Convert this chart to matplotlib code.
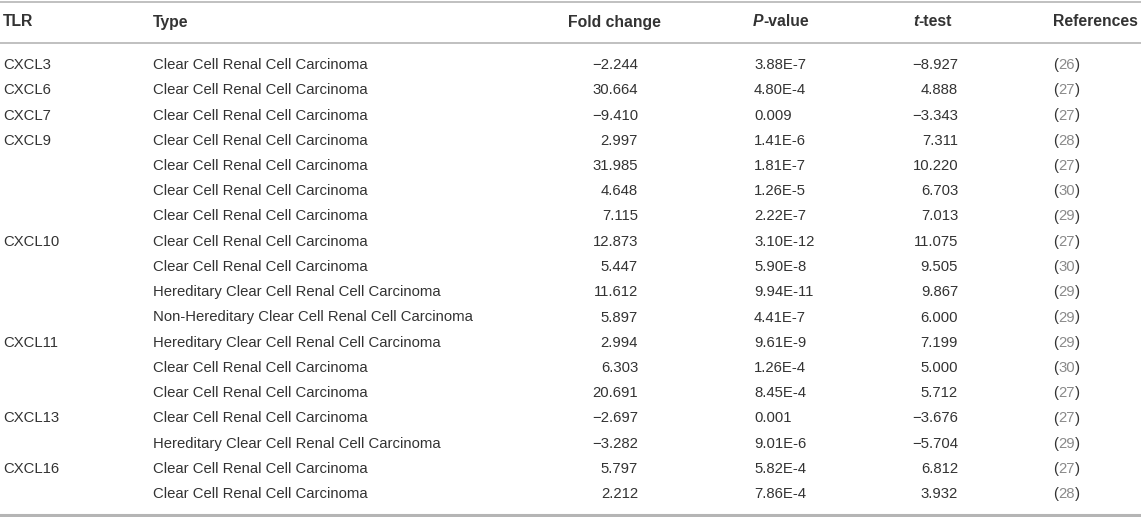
import matplotlib.pyplot as plt

plt.rcParams["font.family"] = ["Liberation Sans", "DejaVu Sans"]

columns = ["TLR", "Type", "Fold change", "P-value", "t-test", "References"]

tlr = ["CXCL3", "CXCL6", "CXCL7", "CXCL9", "", "", "", "CXCL10", "", "", "",
       "CXCL11", "", "", "CXCL13", "", "CXCL16", ""]
ccrcc = "Clear Cell Renal Cell Carcinoma"
types = [ccrcc, ccrcc, ccrcc, ccrcc, ccrcc, ccrcc, ccrcc, ccrcc, ccrcc,
         "Hereditary Clear Cell Renal Cell Carcinoma",
         "Non-Hereditary Clear Cell Renal Cell Carcinoma",
         "Hereditary Clear Cell Renal Cell Carcinoma",
         ccrcc, ccrcc, ccrcc,
         "Hereditary Clear Cell Renal Cell Carcinoma",
         ccrcc, ccrcc]
fold_change = ["\u22122.244", "30.664", "\u22129.410", "2.997", "31.985", "4.648",
               "7.115", "12.873", "5.447", "11.612", "5.897", "2.994", "6.303",
               "20.691", "\u22122.697", "\u22123.282", "5.797", "2.212"]
p_value = ["3.88E-7", "4.80E-4", "0.009", "1.41E-6", "1.81E-7", "1.26E-5",
           "2.22E-7", "3.10E-12", "5.90E-8", "9.94E-11", "4.41E-7", "9.61E-9",
           "1.26E-4", "8.45E-4", "0.001", "9.01E-6", "5.82E-4", "7.86E-4"]
t_test = ["\u22128.927", "4.888", "\u22123.343", "7.311", "10.220", "6.703",
          "7.013", "11.075", "9.505", "9.867", "6.000", "7.199", "5.000",
          "5.712", "\u22123.676", "\u22125.704", "6.812", "3.932"]
refs = ["26", "27", "27", "28", "27", "30", "29", "27", "30", "29", "29",
        "29", "30", "27", "27", "29", "27", "28"]

W, H = 1141, 517
fig = plt.figure(figsize=(W / 100, H / 100), dpi=100)
ax = fig.add_axes([0, 0, 1, 1])
ax.set_xlim(0, W)
ax.set_ylim(H, 0)
ax.axis("off")

TXT = "#333333"
REF = "#8a8a8a"
FS = 10.7   # body
HFS = 11.3  # header
renderer = fig.canvas.get_renderer()


def pieces(x, y, parts, fs):
    # draw text pieces one after another on a line
    for s, kw in parts:
        t = ax.text(x, y, s, fontsize=fs, va="center", ha="left", **kw)
        w, _, _ = renderer.get_text_width_height_descent(
            s, t.get_fontproperties(), ismath=False)
        x += w


# rules
ax.axhline(2, color="#b5b5b5", lw=1.2)
ax.axhline(43, color="#b5b5b5", lw=1.2)
ax.axhline(515, color="#b5b5b5", lw=2.2)

# header
hy = 22
bold = dict(color=TXT, fontweight="bold")
bolditalic = dict(color=TXT, fontweight="bold", fontstyle="italic")
ax.text(3, hy, columns[0], fontsize=HFS, va="center", **bold)
ax.text(153, hy, columns[1], fontsize=HFS, va="center", **bold)
ax.text(568, hy, columns[2], fontsize=HFS, va="center", **bold)
pieces(753, hy, [("P", bolditalic), ("-value", bold)], HFS)
pieces(913, hy, [("t", bolditalic), ("-test", bold)], HFS)
ax.text(1053, hy, columns[5], fontsize=HFS, va="center", **bold)

# body
y0, dy = 65, 25.25
for i in range(len(types)):
    y = y0 + i * dy
    ax.text(3, y, tlr[i], fontsize=FS, va="center", color=TXT)
    ax.text(153, y, types[i], fontsize=FS, va="center", color=TXT)
    ax.text(638, y, fold_change[i], fontsize=FS, va="center", ha="right", color=TXT)
    ax.text(754, y, p_value[i], fontsize=FS, va="center", color=TXT)
    ax.text(958, y, t_test[i], fontsize=FS, va="center", ha="right", color=TXT)
    pieces(1053, y, [("(", dict(color=TXT)), (refs[i], dict(color=REF)),
                     (")", dict(color=TXT))], FS)

fig.savefig("out.png", dpi=100)
